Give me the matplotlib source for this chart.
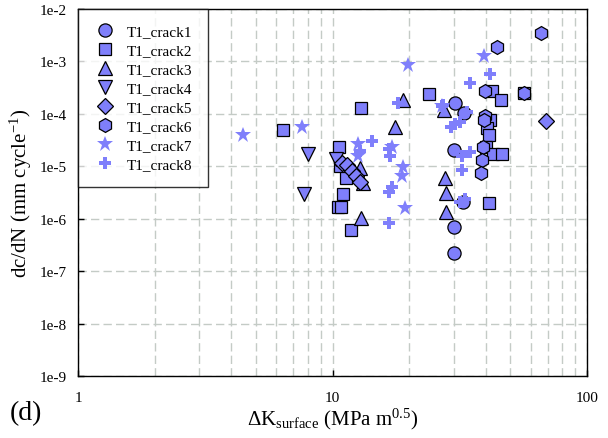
import numpy as np
import matplotlib
matplotlib.use("Agg")
import matplotlib.pyplot as plt
from matplotlib.ticker import FuncFormatter, LogLocator, NullFormatter

plt.rcParams['font.family'] = ['Liberation Serif', 'DejaVu Serif']
plt.rcParams['mathtext.fontset'] = 'custom'
plt.rcParams['mathtext.rm'] = 'Liberation Serif'
plt.rcParams['mathtext.it'] = 'Liberation Serif:italic'

# dK surface (MPa m^0.5) and dc/dN (mm/cycle) per crack
crack1_dk = [30.3, 32.9, 30.1, 32.7, 30.1, 30.1]
crack1_rate = [1.6e-4, 1.04e-4, 2.07e-5, 2.04e-6, 6.9e-7, 2.2e-7]

crack2_dk = [6.41, 13.0, 10.6, 10.7, 11.27, 10.97, 10.48, 10.8, 11.82, 24.0,
             42.5, 45.8, 56.3, 41.6, 40.6, 41.3, 40.1, 42.8, 46.2, 41.3]
crack2_rate = [4.92e-5, 1.28e-4, 2.38e-5, 1.0e-5, 5.9e-6, 2.9e-6, 1.69e-6, 1.65e-6, 6.2e-7, 2.39e-4,
               2.75e-4, 1.86e-4, 2.5e-4, 7.7e-5, 5.3e-5, 3.95e-5, 2.3e-5, 1.71e-5, 1.71e-5, 2.0e-6]

crack3_dk = [12.8, 13.2, 12.9, 17.6, 18.9, 27.5, 27.7, 27.85, 27.85]
crack3_rate = [9.1e-6, 4.7e-6, 1.02e-6, 5.7e-5, 1.83e-4, 1.16e-4, 5.9e-6, 3.1e-6, 1.33e-6]

crack4_dk = [8.03, 7.75, 10.3]
crack4_rate = [1.7e-5, 3.0e-6, 1.35e-5]

crack5_dk = [10.87, 11.37, 11.9, 12.34, 12.8, 68.8]
crack5_rate = [1.16e-5, 1.07e-5, 8.24e-6, 6.6e-6, 5.1e-6, 7.4e-5]

crack6_dk = [66.0, 44.2, 39.7, 56.3, 39.7, 39.3, 39.1, 38.7, 38.3]
crack6_rate = [3.44e-3, 1.91e-3, 2.69e-4, 2.5e-4, 9.2e-5, 7.7e-5, 2.3e-5, 1.32e-5, 7.35e-6]

crack7_dk = [4.46, 7.57, 12.63, 12.6, 19.86, 17.1, 19.0, 18.8, 19.3, 39.5, 26.9]
crack7_rate = [3.95e-5, 5.54e-5, 2.66e-5, 1.6e-5, 8.55e-4, 2.3e-5, 9.5e-6, 6.6e-6, 1.58e-6, 1.25e-3, 1.43e-4]

crack8_dk = [14.26, 12.8, 18.1, 16.6, 16.8, 17.1, 16.6, 16.6, 26.9, 27.2, 30.3, 31.7, 29.2,
             33.7, 34.7, 41.6, 32.2, 34.7, 32.2, 33.2, 31.7]
crack8_rate = [3.04e-5, 2.0e-5, 1.61e-4, 2.14e-5, 1.59e-5, 4.0e-6, 3.2e-6, 8.3e-7, 1.43e-4, 1.5e-4,
               6.4e-5, 7.1e-5, 5.6e-5, 1.07e-4, 3.88e-4, 5.75e-4, 1.59e-5, 1.85e-5, 8.5e-6, 2.38e-6, 2.1e-6]

labels = ["T1_crack1", "T1_crack2", "T1_crack3", "T1_crack4",
          "T1_crack5", "T1_crack6", "T1_crack7", "T1_crack8"]

fill = "#7f7ffb"

fig = plt.figure(figsize=(6.08, 4.39), dpi=100)
ax = fig.add_axes([78 / 608, 1 - 377 / 439, (587 - 78) / 608, (377 - 10) / 439])

series = [
    (crack1_dk, crack1_rate, "o", 9.5, True),
    (crack2_dk, crack2_rate, "s", 8.5, True),
    (crack3_dk, crack3_rate, "^", 10, True),
    (crack4_dk, crack4_rate, "v", 10, True),
    (crack5_dk, crack5_rate, "D", 8, True),
    (crack6_dk, crack6_rate, "h", 10, True),
    (crack7_dk, crack7_rate, "*", 12, False),
    (crack8_dk, crack8_rate, "P", 9, False),
]

for (xs, ys, mk, ms, edged), lab in zip(series, labels):
    ax.plot(xs, ys, ls="none", marker=mk, ms=ms, mfc=fill,
            mec="black" if edged else fill, mew=0.9 if edged else 0,
            label=lab, zorder=3)

ax.set_xscale("log")
ax.set_yscale("log")
ax.set_xlim(1, 100)
ax.set_ylim(1e-9, 1e-2)

ax.xaxis.set_major_locator(LogLocator(base=10, numticks=5))
ax.xaxis.set_minor_locator(LogLocator(base=10, subs=np.arange(2, 10), numticks=10))
ax.xaxis.set_minor_formatter(NullFormatter())
ax.xaxis.set_major_formatter(FuncFormatter(lambda v, p: "%g" % v))
ax.yaxis.set_major_locator(LogLocator(base=10, numticks=12))
ax.yaxis.set_minor_locator(plt.NullLocator())
ax.yaxis.set_major_formatter(FuncFormatter(lambda v, p: "1e%d" % round(np.log10(v))))

ax.grid(True, which="major", axis="y", color="#c4cbc6", ls=(0, (6, 3)), lw=1)
ax.grid(True, which="both", axis="x", color="#c4cbc6", ls=(0, (6, 3)), lw=1)
ax.set_axisbelow(True)

ax.tick_params(which="major", direction="in", length=4, width=1, labelsize=11)
ax.tick_params(axis="x", which="major", pad=11)
ax.tick_params(axis="y", which="major", pad=8)
ax.tick_params(which="minor", length=0)
for sp in ax.spines.values():
    sp.set_linewidth(1)

ax.set_xlabel(r"$\Delta$K$_{\mathrm{surface}}$ (MPa m$^{0.5}$)", fontsize=15, labelpad=1)
ax.set_ylabel(r"dc/dN (mm cycle$^{-1}$)", fontsize=15, labelpad=4)
fig.text(10 / 608, 1 - 420 / 439, "(d)", fontsize=20)

leg = ax.legend(loc="upper left", borderaxespad=0, fontsize=11, frameon=True,
                fancybox=False, edgecolor="black", labelspacing=0.35,
                borderpad=1.0, handletextpad=0.7, handlelength=1.5)
leg.get_frame().set_linewidth(1)

fig.savefig("out.png", dpi=100)
